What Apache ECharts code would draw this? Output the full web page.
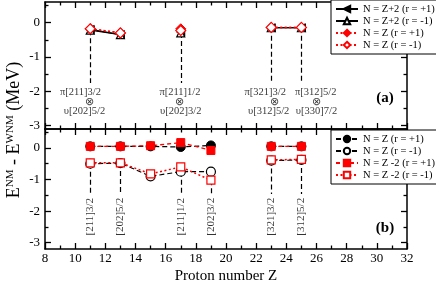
<!DOCTYPE html>
<html><head><meta charset="utf-8">
<script src="https://cdn.jsdelivr.net/npm/echarts@6/dist/echarts.min.js"></script>
<style>html,body{margin:0;padding:0;background:#fff}#c{width:436px;height:285px}</style>
</head><body><div id="c"></div><script>
// ---------- data ----------
const zTop = [11, 13, 15, 17, 19, 21, 23, 25];
const topZp2Plus  = [-0.20, -0.35, null, -0.28, null, null, -0.15, -0.15];
const topZp2Minus = [-0.22, -0.35, null, -0.30, null, null, -0.15, -0.15];
const topZPlus    = [-0.18, -0.30, null, -0.18, null, null, -0.14, -0.14];
const topZMinus   = [-0.18, -0.30, null, -0.23, null, null, -0.14, -0.14];

const zBot = [11, 13, 15, 17, 19, 21, 23, 25];
const botZPlus    = [0.05, 0.05, 0.05, 0.03, 0.08, null, 0.05, 0.05];
const botZMinus   = [-0.50, -0.48, -0.90, -0.75, -0.75, null, -0.40, -0.38];
const botZm2Plus  = [0.05, 0.05, 0.07, 0.17, -0.08, null, 0.05, 0.05];
const botZm2Minus = [-0.47, -0.47, -0.82, -0.60, -1.02, null, -0.38, -0.36];

const yMajorTicks = [-3, -2, -1, 0];
const yMinorTicks = [-2.5, -1.5, -0.5, 0.5];

const topDropZ = [11, 17, 23, 25];
const botDropZ = [11, 13, 17, 19, 23, 25];
const topPi = ['π[211]3/2', 'π[211]1/2', 'π[321]3/2', 'π[312]5/2'];
const topNu = ['υ[202]5/2', 'υ[202]3/2', 'υ[312]5/2', 'υ[330]7/2'];
const botOrb = ['[211]3/2', '[202]5/2', '[211]1/2', '[202]3/2', '[321]3/2', '[312]5/2'];

const topNames = ['N = Z+2 (r = +1)', 'N = Z+2 (r = -1)', 'N = Z (r = +1)', 'N = Z (r = -1)'];
const botNames = ['N = Z (r = +1)', 'N = Z (r = -1)', 'N = Z -2 (r = +1)', 'N = Z -2 (r = -1)'];

// ---------- layout helpers (not data) ----------
const topLabelX = { pi: [10.35, 16.95, 22.6, 25.95], ot: [10.98, 16.95, 23.2, 26.02], nu: [10.62, 17.0, 22.83, 26.0] };
const topLabelY = { pi: -2.02, ot: -2.31, nu: -2.58 };
const topDropEnd = -1.76, botDropEnd = -1.46, botLabelY = -2.18;

const FONT = 'Liberation Serif';
const pairs = (zs, vs) => zs.map((z, i) => [z, vs[i] == null ? '-' : vs[i]]);
const minAt = (zs, arrs, z) => Math.min(...arrs.map(a => a[zs.indexOf(z)]).filter(v => v != null));

function xAx(grid, pos, labels) {
  return {
    type: 'value', gridIndex: grid, position: pos, min: 8, max: 32, interval: 2,
    axisLine: { show: true, onZero: false, lineStyle: { color: '#000', width: 1.5 } },
    axisTick: { show: true, inside: true, length: 6, lineStyle: { color: '#000', width: 1.3 } },
    minorTick: { show: true, splitNumber: 2, length: 3.5, lineStyle: { color: '#000', width: 1.3 } },
    axisLabel: { show: labels, color: '#000', fontFamily: FONT, fontSize: 13, margin: 3 },
    splitLine: { show: false },
    name: labels ? 'Proton number Z' : '', nameLocation: 'middle', nameGap: 20,
    nameTextStyle: { color: '#000', fontFamily: FONT, fontSize: 15 }
  };
}
function yAx(grid, pos, min, max, minor, labels) {
  const vals = minor ? yMinorTicks : yMajorTicks;
  return {
    type: 'value', gridIndex: grid, position: pos, min: min, max: max,
    axisLine: { show: !minor, onZero: false, lineStyle: { color: '#000', width: 1.5 } },
    axisTick: { show: true, inside: true, length: minor ? 3.5 : 6, customValues: vals, lineStyle: { color: '#000', width: 1.3 } },
    axisLabel: { show: labels, customValues: vals, color: '#000', fontFamily: FONT, fontSize: 13, margin: 5 },
    splitLine: { show: false }
  };
}

const openStyle = c => ({ color: '#fff', borderColor: c, borderWidth: 1.2 });
const fillStyle = c => ({ color: c, borderColor: c, borderWidth: 1 });
const leftTri = 'path://M0,5 L10,0 L10,10 Z';

function lineSeries(name, xi, yi, data, symbol, size, item, line) {
  return { type: 'line', name, xAxisIndex: xi, yAxisIndex: yi, data, symbol, symbolSize: size,
    itemStyle: item, lineStyle: line, connectNulls: false, animation: false, z: 5 };
}

const series = [
  lineSeries(topNames[0], 0, 0, pairs(zTop, topZp2Plus), leftTri, 8, fillStyle('#000'), { color: '#000', width: 1.2, type: 'solid' }),
  lineSeries(topNames[1], 0, 0, pairs(zTop, topZp2Minus), 'triangle', 8, openStyle('#000'), { color: '#000', width: 1.2, type: 'solid' }),
  lineSeries(topNames[2], 0, 0, pairs(zTop, topZPlus), 'diamond', 10, fillStyle('#ff0000'), { color: '#ff0000', width: 1.5, type: [2, 2.5] }),
  lineSeries(topNames[3], 0, 0, pairs(zTop, topZMinus), 'diamond', 10, openStyle('#ff0000'), { color: '#ff0000', width: 1.5, type: [2, 2.5] }),
  lineSeries(botNames[0] + ' [b]', 2, 4, pairs(zBot, botZPlus), 'circle', 9, fillStyle('#000'), { color: '#000', width: 1.2, type: [5, 3] }),
  lineSeries(botNames[1] + ' [b]', 2, 4, pairs(zBot, botZMinus), 'circle', 9, openStyle('#000'), { color: '#000', width: 1.2, type: [5, 3] }),
  lineSeries(botNames[2] + ' [b]', 2, 4, pairs(zBot, botZm2Plus), 'rect', 8, fillStyle('#ff0000'), { color: '#ff0000', width: 1.3, type: [4, 3] }),
  lineSeries(botNames[3] + ' [b]', 2, 4, pairs(zBot, botZm2Minus), 'rect', 8, openStyle('#ff0000'), { color: '#ff0000', width: 1.5, type: [2, 2.5] })
];

// drop lines + orbital labels (top)
const topAll = [topZp2Plus, topZp2Minus, topZPlus, topZMinus];
const topLbl = [];
topDropZ.forEach((z, i) => {
  topLbl.push({ value: [topLabelX.pi[i], topLabelY.pi], name: topPi[i] });
  topLbl.push({ value: [topLabelX.ot[i], topLabelY.ot], name: '⊗' });
  topLbl.push({ value: [topLabelX.nu[i], topLabelY.nu], name: topNu[i] });
});
series.push({
  type: 'scatter', name: 'lblTop', xAxisIndex: 0, yAxisIndex: 0, symbolSize: 0, data: topLbl, z: 2, silent: true, animation: false,
  label: { show: true, position: 'inside', formatter: '{b}', color: '#000', fontFamily: FONT, fontSize: 10.5 },
  markLine: { symbol: ['none', 'none'], silent: true, animation: false, label: { show: false },
    lineStyle: { color: '#000', width: 1.2, type: [5, 3] },
    data: topDropZ.map(z => [{ coord: [z, minAt(zTop, topAll, z)] }, { coord: [z, topDropEnd] }]) }
});
// bottom
const botAll = [botZMinus, botZm2Minus];
series.push({
  type: 'scatter', name: 'lblBot', xAxisIndex: 2, yAxisIndex: 4, symbolSize: 0, z: 2, silent: true, animation: false,
  data: botDropZ.map((z, i) => ({ value: [z, botLabelY], name: botOrb[i] })),
  label: { show: true, position: 'inside', rotate: 90, formatter: '{b}', color: '#000', fontFamily: FONT, fontSize: 11 },
  markLine: { symbol: ['none', 'none'], silent: true, animation: false, label: { show: false },
    lineStyle: { color: '#000', width: 1.2, type: [5, 3] },
    data: botDropZ.map(z => [{ coord: [z, minAt(zBot, botAll, z)] }, { coord: [z, botDropEnd] }]) }
});

const legendBase = {
  orient: 'vertical', left: 331, itemGap: 0, itemWidth: 22, itemHeight: 8, selectedMode: false,
  padding: [3, 3, 3, 4], borderColor: '#000', borderWidth: 1, backgroundColor: '#fff', borderRadius: 0,
  textStyle: { color: '#000', fontFamily: FONT, fontSize: 10.5, lineHeight: 12 }
};

const option = {
  backgroundColor: '#fff',
  animation: false,
  grid: [
    { left: 45, top: 2, width: 362, height: 127 },
    { left: 45, top: 129, width: 362, height: 127 }
  ],
  xAxis: [xAx(0, 'bottom', false), xAx(0, 'top', false), xAx(1, 'bottom', true), xAx(1, 'top', false)],
  yAxis: [
    yAx(0, 'left', -3.1, 0.6, false, true), yAx(0, 'right', -3.1, 0.6, false, false),
    yAx(0, 'left', -3.1, 0.6, true, false), yAx(0, 'right', -3.1, 0.6, true, false),
    yAx(1, 'left', -3.2, 0.6, false, true), yAx(1, 'right', -3.2, 0.6, false, false),
    yAx(1, 'left', -3.2, 0.6, true, false), yAx(1, 'right', -3.2, 0.6, true, false)
  ],
  legend: [
    Object.assign({}, legendBase, { top: 0, data: topNames }),
    Object.assign({}, legendBase, { top: 130, data: botNames.map(n => n + ' [b]'), formatter: n => n.replace(' [b]', '') })
  ],
  graphic: [
    { type: 'text', x: 14, y: 130, rotation: Math.PI / 2,
      style: { text: '{a|E}{s|NM}{a| - E}{s|WNM}{a| (MeV)}', align: 'center', verticalAlign: 'middle',
        rich: { a: { fontSize: 18, fontFamily: FONT, fill: '#000', color: '#000' },
                s: { fontSize: 11, fontFamily: FONT, fill: '#000', color: '#000', verticalAlign: 'top' } } } },
    { type: 'text', x: 385, y: 98, style: { text: '(a)', font: 'bold 15px "Liberation Serif"', fill: '#000', align: 'center', verticalAlign: 'middle' } },
    { type: 'text', x: 385, y: 228, style: { text: '(b)', font: 'bold 15px "Liberation Serif"', fill: '#000', align: 'center', verticalAlign: 'middle' } }
  ],
  series
};
const chart = echarts.init(document.getElementById('c'), null, { renderer: 'canvas' });
chart.setOption(option);
</script></body></html>
